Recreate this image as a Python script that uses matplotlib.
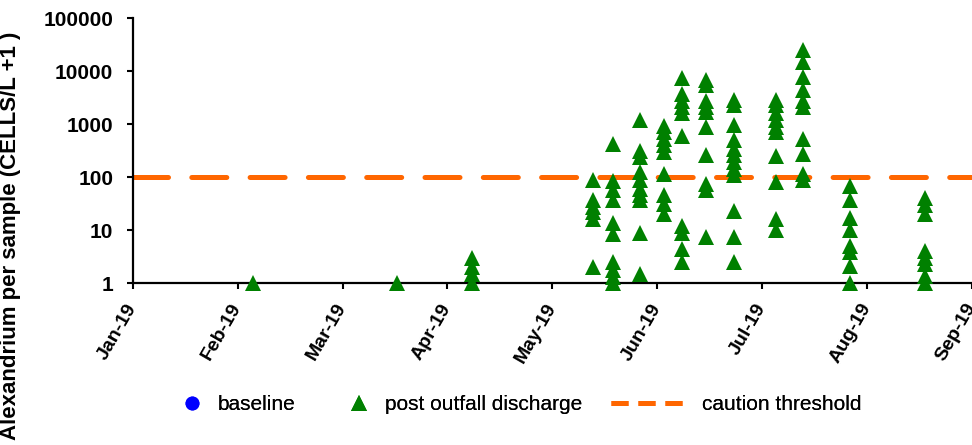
import matplotlib
matplotlib.use('Agg')
import matplotlib.pyplot as plt
from matplotlib.lines import Line2D
import calendar
import datetime

plt.rcParams['font.family'] = ['Liberation Sans', 'DejaVu Sans']

# sampling dates and Alexandrium counts (cells/L + 1) for each date
sample_dates = ['2019-02-05', '2019-03-17', '2019-04-08', '2019-05-13', '2019-05-19',
                '2019-05-27', '2019-06-03', '2019-06-08', '2019-06-15', '2019-06-23',
                '2019-07-05', '2019-07-13', '2019-07-27', '2019-08-18']
post_counts = [
    [1],
    [1],
    [3, 2, 1.5, 1],
    [88, 37, 28, 22, 16, 2],
    [420, 85, 57, 37, 14, 8.6, 2.5, 1.8, 1.3, 1],
    [1200, 320, 240, 125, 88, 61, 46, 37, 9, 1.5],
    [920, 710, 535, 400, 300, 114, 46, 32, 20],
    [7600, 3800, 2800, 2100, 1600, 600, 12, 9, 4.5, 2.5],
    [6900, 5400, 2800, 2100, 1700, 890, 260, 76, 57, 7.5],
    [2900, 2300, 980, 500, 345, 260, 195, 145, 110, 23, 7.5, 2.5],
    [2900, 2300, 1600, 1200, 890, 720, 250, 81, 16.5, 10],
    [25000, 15000, 7800, 4400, 2800, 2100, 535, 280, 117, 88],
    [68, 37, 17, 10, 5, 3.9, 2.1, 1],
    [41, 30, 20, 4.1, 3, 2.3, 1.4, 1],
]
baseline_x = []
baseline_y = []
caution_level = 100
month_labels = ['Jan-19', 'Feb-19', 'Mar-19', 'Apr-19', 'May-19',
                'Jun-19', 'Jul-19', 'Aug-19', 'Sep-19']
y_ticks = [1, 10, 100, 1000, 10000, 100000]


def month_pos(s):
    # axis runs in months: each month gets the same width
    d = datetime.date.fromisoformat(s)
    ndays = calendar.monthrange(d.year, d.month)[1]
    return (d.month - 1) + (d.day - 1) / ndays


xs = []
ys = []
for date, vals in zip(sample_dates, post_counts):
    for v in vals:
        xs.append(month_pos(date))
        ys.append(v)

fig = plt.figure(figsize=(9.72, 4.45), dpi=100)
ax = fig.add_axes([0.1365, 0.3634, 0.8635, 0.5955])

ax.plot(baseline_x, baseline_y, 'o', color='#0000FF', markersize=9, linestyle='none')
ax.plot(xs, ys, '^', color='#008000', markersize=11, markeredgewidth=0,
        linestyle='none', clip_on=False, zorder=3)

ax.plot([0, len(month_labels) - 1], [caution_level, caution_level], color='#FF6600',
        lw=3.6, dashes=(7.0, 4.66), dash_capstyle='round', zorder=1)

ax.set_yscale('log')
ax.set_ylim(1, 100000)
ax.set_yticks(y_ticks)
ax.set_yticklabels([str(t) for t in y_ticks])
ax.yaxis.set_minor_locator(matplotlib.ticker.NullLocator())
ax.set_xlim(0, len(month_labels) - 1)
ax.set_xticks(range(len(month_labels)))
ax.set_xticklabels(month_labels, rotation=60, ha='right', va='center',
                   rotation_mode='anchor')

for lab in ax.get_yticklabels():
    lab.set_fontsize(15)
    lab.set_fontweight('bold')
for lab in ax.get_xticklabels():
    lab.set_fontsize(14)
    lab.set_fontweight('bold')

ax.tick_params(axis='y', length=4.5, width=1.5, pad=9.5, direction='out')
ax.tick_params(axis='x', length=4.5, width=1.5, pad=11, direction='out')
for side in ['top', 'right']:
    ax.spines[side].set_visible(False)
for side in ['left', 'bottom']:
    ax.spines[side].set_linewidth(1.6)
    ax.spines[side].set_color('black')
    ax.spines[side].set_zorder(2)

ax.set_ylabel('Alexandrium per sample (CELLS/L +1 )', fontsize=16, fontweight='bold')
ax.yaxis.set_label_coords(-0.133, 0.178)

# legend entries laid out one by one along the bottom
h_base = Line2D([], [], marker='o', color='#0000FF', linestyle='none', markersize=9)
h_post = Line2D([], [], marker='^', color='#008000', linestyle='none', markersize=11,
                markeredgewidth=0)
h_caut = Line2D([], [], color='#FF6600', lw=3.6, dashes=(3.4, 2.0))
items = [(h_base, 'baseline', 178.5, 1.3, 0.6),
         (h_post, 'post outfall discharge', 345.5, 1.3, 0.6),
         (h_caut, 'caution threshold', 611, 3.46, 0.9)]
for h, txt, xpx, hl, tp in items:
    leg = fig.legend([h], [txt], loc='center left', bbox_to_anchor=(xpx / 972, 0.09),
                     frameon=False, fontsize=15, handlelength=hl, handletextpad=tp,
                     borderpad=0, borderaxespad=0)
    fig.add_artist(leg)

fig.savefig('out.png', dpi=100)
